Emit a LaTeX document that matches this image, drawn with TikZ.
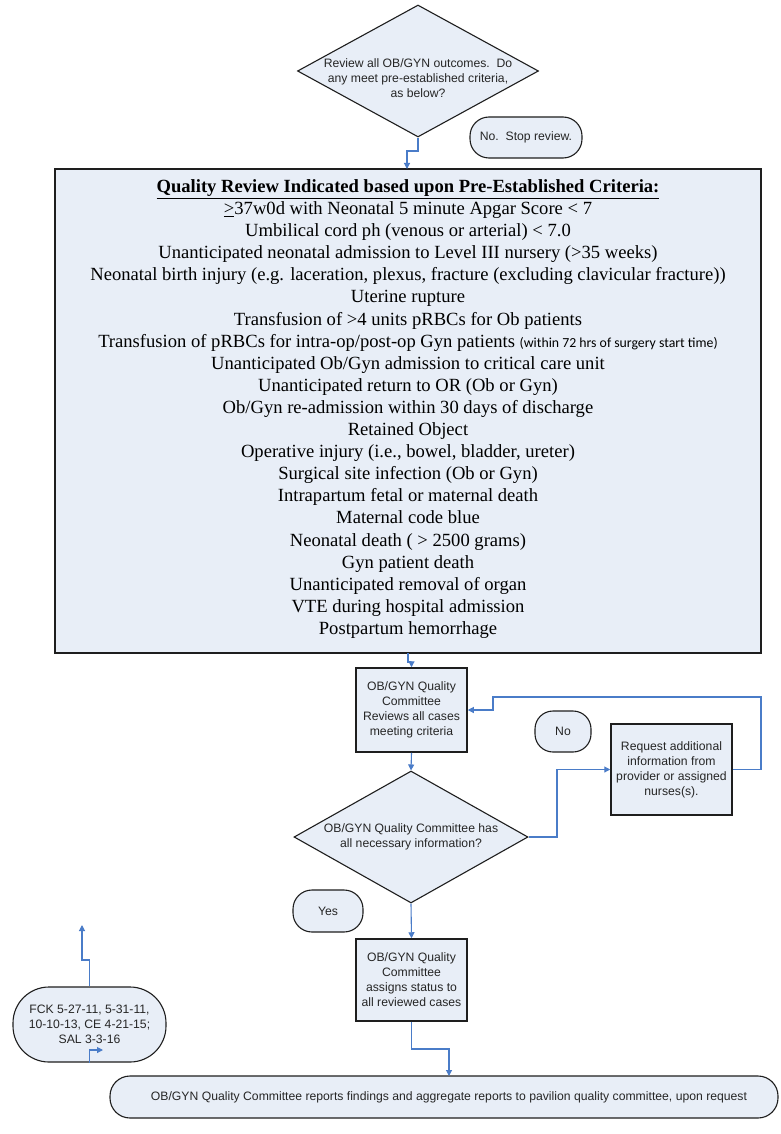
\documentclass[tikz,border=0pt]{standalone}
\usepackage{fontspec}
\setmainfont{Liberation Serif}
\setsansfont{Liberation Sans}
\newfontfamily\calib{Carlito}
\usetikzlibrary{shapes.geometric,arrows.meta}
\definecolor{boxfill}{HTML}{E8EEF7}
\definecolor{arrowblue}{HTML}{4A7CC8}
\definecolor{edgecol}{HTML}{1E1E1E}
\begin{document}
\begin{tikzpicture}[x=1pt,y=-1pt,
  flow/.style={font=\sffamily\fontsize{12.2}{15}\selectfont, align=center, text=black!85},
  procbox/.style={flow, draw=edgecol, line width=1.5pt, fill=boxfill, inner sep=0pt},
  decision/.style={flow, diamond, draw=edgecol, line width=1.1pt, fill=boxfill, inner sep=0pt},
  pill/.style={flow, draw=edgecol, line width=1.1pt, fill=boxfill, inner sep=0pt},
  conn/.style={draw=arrowblue, line width=1.1pt, -{Triangle[length=6pt,width=6pt]}},
  crit/.style={font=\fontsize{18.6}{22.1}\selectfont, align=center}
]
\useasboundingbox (0,0) rectangle (780,1134);
\fill[white] (0,0) rectangle (780,1134);

% top decision
\node[decision, minimum width=241pt, minimum height=132pt] (d1) at (418,71) {};
\node[flow] (d1t) at (418,78) {Review all OB/GYN outcomes.\ \ Do\\any meet pre-established criteria,\\as below?};
\node[pill, minimum width=112pt, minimum height=41pt, rounded corners=19pt] (stop) at (526,137.5) {No.\ \ Stop review.};

% big criteria box
\node[draw=edgecol, line width=1.8pt, fill=boxfill, minimum width=706pt, minimum height=484pt, inner sep=0pt] (crit) at (408,411) {};
\node[crit, anchor=north] (critt) at (408,176) {%
\textbf{\underline{Quality Review Indicated based upon Pre-Established Criteria:}}\\
\underline{>}37w0d with Neonatal 5 minute Apgar Score < 7\\
Umbilical cord ph (venous or arterial) < 7.0\\
Unanticipated neonatal admission to Level III nursery (>35 weeks)\\
Neonatal birth injury (e.g. laceration, plexus, fracture (excluding clavicular fracture))\\
Uterine rupture\\
Transfusion of >4 units pRBCs for Ob patients\\
Transfusion of pRBCs for intra-op/post-op Gyn patients {\calib\fontsize{13.8}{22.1}\selectfont (within 72 hrs of surgery start time)}\\
Unanticipated Ob/Gyn admission to critical care unit\\
Unanticipated return to OR (Ob or Gyn)\\
Ob/Gyn re-admission within 30 days of discharge\\
Retained Object\\
Operative injury (i.e., bowel, bladder, ureter)\\
Surgical site infection (Ob or Gyn)\\
Intrapartum fetal or maternal death\\
Maternal code blue\\
Neonatal death ( > 2500 grams)\\
Gyn patient death\\
Unanticipated removal of organ\\
VTE during hospital admission\\
Postpartum hemorrhage};

% committee review
\node[procbox, minimum width=111pt, minimum height=84pt] (rev) at (411.5,710) {OB/GYN Quality\\Committee\\Reviews all cases\\meeting criteria};
\node[pill, minimum width=56pt, minimum height=41pt, rounded corners=18pt] (no) at (563,731.5) {No};
\node[procbox, minimum width=121pt, minimum height=91pt] (req) at (671.5,769.5) {Request additional\\information from\\provider or assigned\\nurses(s).};

% second decision
\node[decision, minimum width=234pt, minimum height=132pt] (d2) at (411,837) {};
\node[flow] (d2t) at (411,837) {OB/GYN Quality Committee has\\all necessary information?};
\node[pill, minimum width=70pt, minimum height=42pt, rounded corners=19pt] (yes) at (328,911) {Yes};

% assigns status
\node[procbox, minimum width=111pt, minimum height=82pt] (asg) at (411.5,980) {OB/GYN Quality\\Committee\\assigns status to\\all reviewed cases};

% final report
\node[pill, minimum width=668pt, minimum height=42pt, rounded corners=20pt] (fin) at (444,1097) {};
\node[flow] (fint) at (449,1097) {OB/GYN Quality Committee reports findings and aggregate reports to pavilion quality committee, upon request};

% revision pill
\node[pill, minimum width=153pt, minimum height=75pt, rounded corners=36pt] (fck) at (89.5,1024.5) {FCK 5-27-11, 5-31-11,\\10-10-13, CE 4-21-15;\\SAL 3-3-16};

% connectors
\coordinate (j1) at (418,151);
\draw[conn] (d1.south) -- (j1) -| (407,169);
\draw[conn] (408,653) -- (408,662) -| (rev.north);
\draw[conn] (rev.south) -- (d2.north);
\draw[conn] (d2.east) -- (557,837) |- (req.west);
\draw[conn] (req.east) -- (761,769.5) |- (493,697) |- (rev.east);
\draw[conn] (d2.south) -- (asg.north);
\draw[conn] (asg.south) -- (411.5,1049) -| (449,1076);
\coordinate (up1) at (82,925);
\draw[conn] (fck.north) -- (89.5,960) -| (up1);
\coordinate (rt1) at (103,1050);
\draw[conn] (fck.south) |- (rt1);
\end{tikzpicture}
\end{document}
